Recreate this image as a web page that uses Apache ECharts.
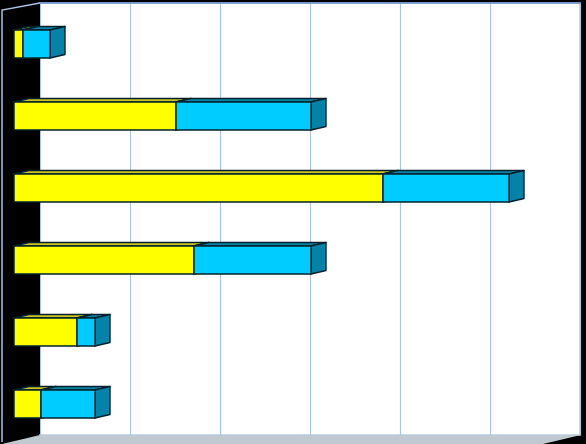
<!DOCTYPE html>
<html><head><meta charset="utf-8">
<style>html,body{margin:0;padding:0;background:#000}#c{width:586px;height:444px}</style>
<script src="https://cdn.jsdelivr.net/npm/echarts@6/dist/echarts.min.js"></script>
</head><body><div id="c"></div>
<script>
const categories = ['A','B','C','D','E','F'];
const yellowValues = [1,18,41,20,7,3];
const blueValues = [3,15,14,13,2,6];
const tickInterval = 10, axisMax = 60;

const depthX = 15, depthY = 3.5, barHeight = 28;
function shade(front, top, side){
  return function(params, api){
    const idx = api.value(2);
    const a = api.coord([api.value(0), idx]);
    const b = api.coord([api.value(1), idx]);
    const y0 = a[1]-barHeight/2, y1 = a[1]+barHeight/2;
    const st = {stroke:'#00222e', lineWidth:1.4, lineJoin:'round'};
    const poly = (pts,fill)=>({type:'polygon',shape:{points:pts},style:Object.assign({fill},st)});
    return {type:'group',children:[
      poly([[a[0],y0],[a[0]+depthX,y0-depthY],[b[0]+depthX,y0-depthY],[b[0],y0]],top),
      poly([[b[0],y0],[b[0]+depthX,y0-depthY],[b[0]+depthX,y1-depthY],[b[0],y1]],side),
      poly([[a[0],y0],[b[0],y0],[b[0],y1],[a[0],y1]],front)
    ]};
  };
}
const yellowData = yellowValues.map((v,i)=>[0,v,i]);
const blueData = blueValues.map((v,i)=>[yellowValues[i],yellowValues[i]+v,i]);

const chart = echarts.init(document.getElementById('c'),null,{renderer:'canvas'});
chart.setOption({
  animation:false,
  backgroundColor:'#000',
  graphic:[
    {type:'polygon',z:1,shape:{points:[[40,435],[581,435],[543,444],[2,444]]},style:{fill:'#c0c8d0'}},
    {type:'polygon',z:2,shape:{points:[[2,10],[40,3],[40,434],[2,442]]},style:{fill:'#000'}},
    {type:'polyline',z:3,shape:{points:[[2,442],[2,10],[40,3]]},style:{stroke:'#a9c4e8',lineWidth:1.5,fill:'none'}},
    {type:'line',z:3,shape:{x1:40,y1:3,x2:581,y2:3},style:{stroke:'#6f8fc8',lineWidth:1.5}}
  ],
  grid:[
    {left:40,top:3,width:540,height:432,show:true,backgroundColor:'#fff',borderColor:'#b5cdea',borderWidth:1.5},
    {left:14,top:8,width:540,height:432}
  ],
  xAxis:[
    {gridIndex:0,type:'value',min:0,max:axisMax,interval:tickInterval,axisLabel:{show:false},axisLine:{show:false},axisTick:{show:false},
     splitLine:{show:true,lineStyle:{color:'#a8c6e6',width:1.2}}},
    {gridIndex:1,type:'value',min:0,max:axisMax,interval:tickInterval,axisLabel:{show:false},axisLine:{show:false},axisTick:{show:false},splitLine:{show:false}}
  ],
  yAxis:[
    {gridIndex:0,type:'category',data:categories,inverse:true,axisLabel:{show:false},axisLine:{show:false},axisTick:{show:false}},
    {gridIndex:1,type:'category',data:categories,inverse:true,axisLabel:{show:false},axisLine:{show:false},axisTick:{show:false}}
  ],
  series:[
    {type:'custom',xAxisIndex:1,yAxisIndex:1,z:5,clip:false,data:yellowData,encode:{x:[0,1],y:2},
     renderItem:shade('#ffff00','#ccc41a','#b8b800')},
    {type:'custom',xAxisIndex:1,yAxisIndex:1,z:6,clip:false,data:blueData,encode:{x:[0,1],y:2},
     renderItem:shade('#00ccff','#0a82a6','#0582a8')}
  ]
});
</script></body></html>
